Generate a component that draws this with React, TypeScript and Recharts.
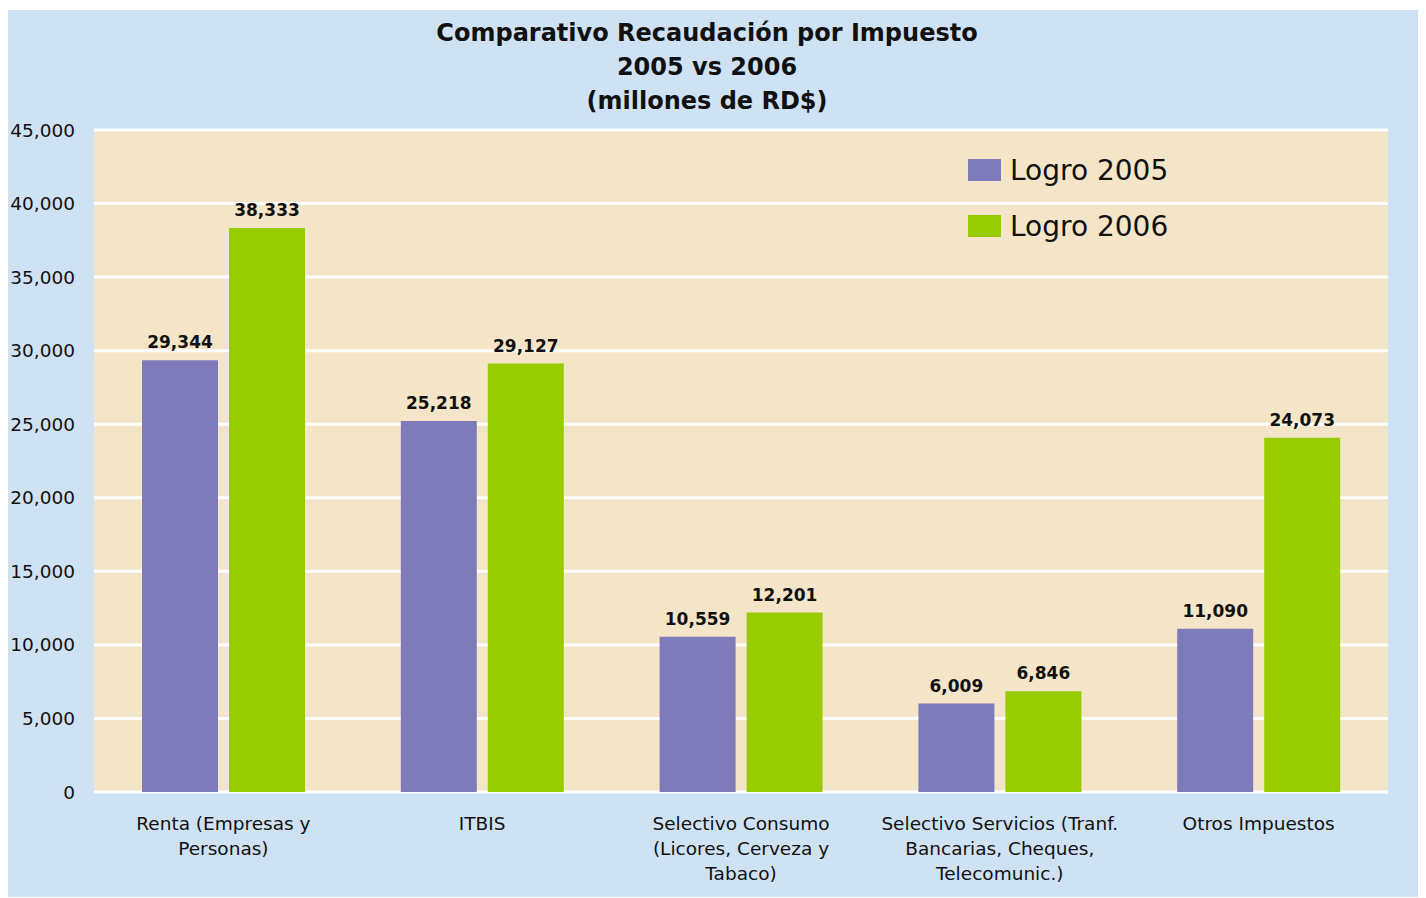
import React from 'react';
import { BarChart, Bar, XAxis, YAxis, CartesianGrid, Legend, LabelList } from 'recharts';

const categories = [
  'Renta (Empresas y\nPersonas)',
  'ITBIS',
  'Selectivo Consumo\n(Licores, Cerveza y\nTabaco)',
  'Selectivo Servicios (Tranf.\nBancarias, Cheques,\nTelecomunic.)',
  'Otros Impuestos',
];
const logro2005 = [29344, 25218, 10559, 6009, 11090];
const logro2006 = [38333, 29127, 12201, 6846, 24073];
const yTicks = [0, 5000, 10000, 15000, 20000, 25000, 30000, 35000, 40000, 45000];

const FONT = '"DejaVu Sans", Verdana, sans-serif';
const PURPLE = '#7F7ABA';
const GREEN = '#99CC00';

const data = categories.map((name, i) => ({
  name,
  y2005: logro2005[i],
  y2006: logro2006[i],
}));

const fmt = (v: any) => Number(v).toLocaleString('en-US');

function CategoryTick({ x, y, payload }: any) {
  const lines = String(payload.value).split('\n');
  return (
    <g>
      {lines.map((line, i) => (
        <text
          key={i}
          x={x}
          y={y + 36 + i * 25}
          textAnchor="middle"
          fontFamily={FONT}
          fontSize={18.5}
          fill="#111"
        >
          {line}
        </text>
      ))}
    </g>
  );
}

function LegendBox({ payload }: any) {
  return (
    <div style={{ fontFamily: FONT }}>
      {payload.map((entry: any) => (
        <div key={entry.value} style={{ display: 'flex', alignItems: 'center', height: 56 }}>
          <span style={{ width: 33, height: 22, background: entry.color, display: 'inline-block', marginRight: 9 }} />
          <span style={{ fontSize: 28, color: '#111' }}>{entry.value}</span>
        </div>
      ))}
    </div>
  );
}

const labelStyle = { fontFamily: FONT, fontSize: 17, fontWeight: 'bold', fill: '#111' };

export default function App() {
  return (
    <div style={{ width: 1413, height: 887, marginLeft: -1, marginTop: 2, background: '#CFE2F3', position: 'relative' }}>
      <div
        style={{
          position: 'absolute',
          top: 6,
          left: 0,
          width: 1400,
          textAlign: 'center',
          fontFamily: FONT,
          fontWeight: 'bold',
          fontSize: 24,
          lineHeight: '34px',
          color: '#111',
        }}
      >
        <div>Comparativo Recaudación por Impuesto</div>
        <div>2005 vs 2006</div>
        <div>(millones de RD$)</div>
      </div>
      <BarChart
        width={1413}
        height={887}
        data={data}
        margin={{ top: 120, right: 32, left: 0, bottom: 0 }}
        barSize={76}
        barGap={11}
      >
        <CartesianGrid vertical={false} stroke="#FFFFFF" strokeWidth={3} fill="#F5E5C8" fillOpacity={1} />
        <XAxis
          dataKey="name"
          height={105}
          axisLine={false}
          tickLine={false}
          tickSize={0}
          interval={0}
          tick={<CategoryTick />}
        />
        <YAxis
          width={87}
          domain={[0, 45000]}
          ticks={yTicks}
          interval={0}
          axisLine={false}
          tickLine={false}
          tickSize={0}
          tickMargin={19}
          tickFormatter={fmt}
          tick={{ fontFamily: FONT, fontSize: 18.5, fill: '#111' }}
        />
        <Legend
          layout="vertical"
          verticalAlign="middle"
          align="center"
          wrapperStyle={{ top: 132, left: 961, width: 260 }}
          content={<LegendBox />}
        />
        <Bar dataKey="y2005" name="Logro 2005" fill={PURPLE} isAnimationActive={false}>
          <LabelList dataKey="y2005" position="top" offset={12} formatter={fmt} style={labelStyle} />
        </Bar>
        <Bar dataKey="y2006" name="Logro 2006" fill={GREEN} isAnimationActive={false}>
          <LabelList dataKey="y2006" position="top" offset={12} formatter={fmt} style={labelStyle} />
        </Bar>
      </BarChart>
    </div>
  );
}
